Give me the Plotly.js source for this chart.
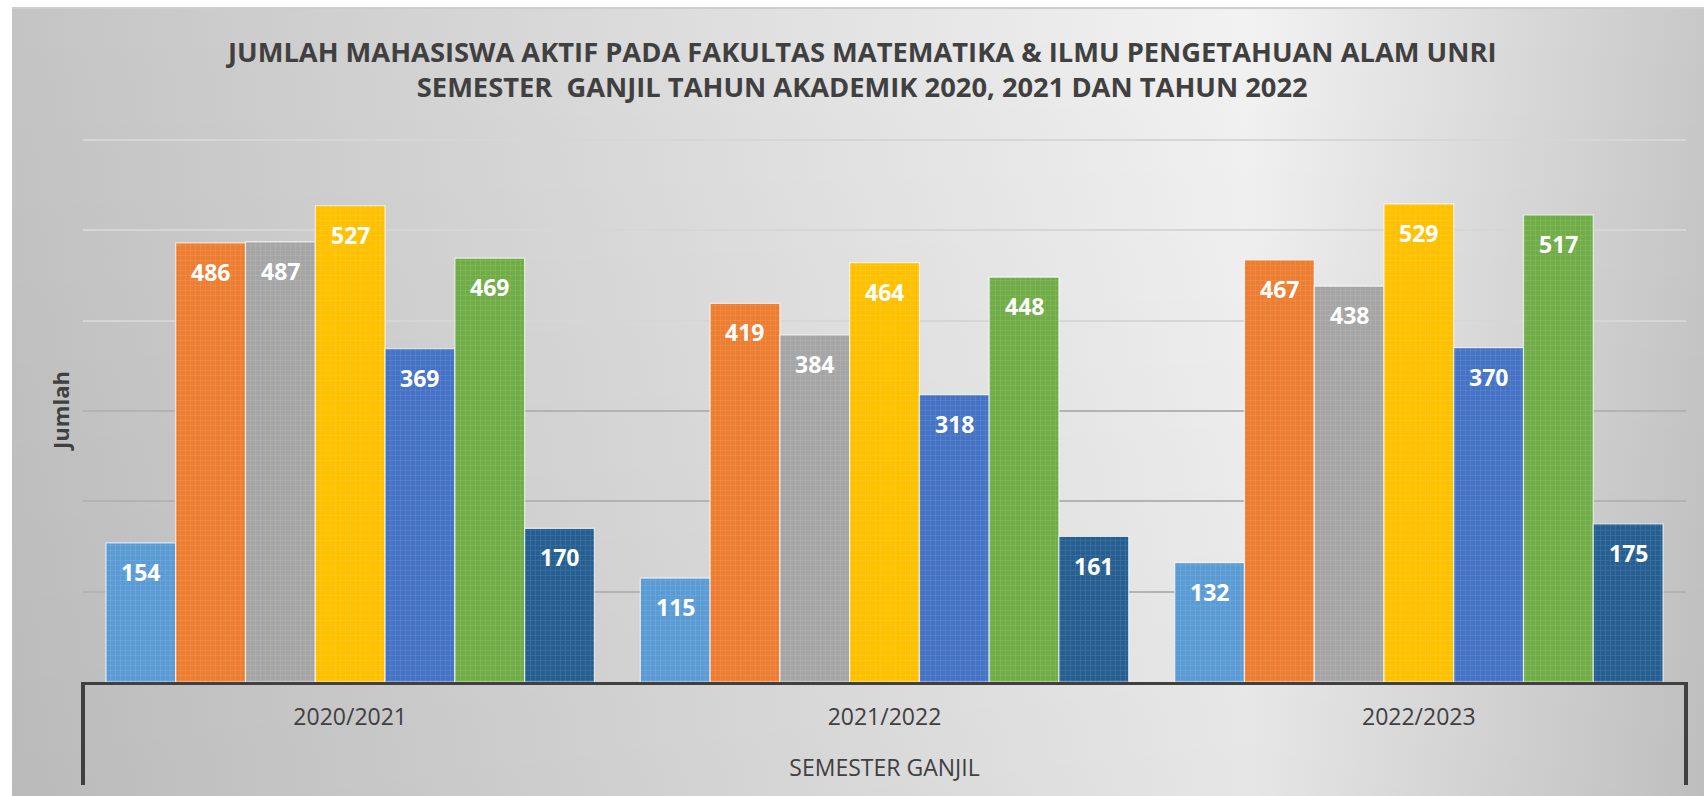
<!DOCTYPE html>
<html>
<head>
<meta charset="utf-8">
<script src="https://cdn.plot.ly/plotly-3.0.1.min.js"></script>
<style>
  html, body { margin: 0; padding: 0; background: #ffffff; }
  #wrap { position: relative; width: 1704px; height: 796px; overflow: hidden; }
  #bg {
    position: absolute; left: 12px; top: 7px; right: 0; bottom: 0;
    border-top: 2px solid #cdcdcd;
    background:
      linear-gradient(to bottom, rgba(0,0,0,0) 0%, rgba(0,0,0,0.05) 100%),
      linear-gradient(to right, #c4c4c4 0%, #f2f2f2 73%, #c8c8c8 100%);
  }
  #chart { position: absolute; left: 0; top: 0; width: 1704px; height: 796px; }
</style>
</head>
<body>
<div id="wrap">
  <div id="bg"></div>
  <div id="chart"></div>
</div>
<script>
// ---- data ----
const categories = ['2020/2021', '2021/2022', '2022/2023'];
const seriesNames = ['Seri 1', 'Seri 2', 'Seri 3', 'Seri 4', 'Seri 5', 'Seri 6', 'Seri 7'];
const series1 = [154, 115, 132];
const series2 = [486, 419, 467];
const series3 = [487, 384, 438];
const series4 = [527, 464, 529];
const series5 = [369, 318, 370];
const series6 = [469, 448, 517];
const series7 = [170, 161, 175];
const seriesColors = ['#5B9BD5', '#ED7D31', '#A5A5A5', '#FFC000', '#4472C4', '#70AD47', '#255E91'];
const titleLines = [
  'JUMLAH MAHASISWA AKTIF PADA FAKULTAS MATEMATIKA &amp; ILMU PENGETAHUAN ALAM UNRI',
  'SEMESTER\u00a0 GANJIL TAHUN AKADEMIK 2020, 2021 DAN TAHUN 2022'
];
const xTitle = 'SEMESTER GANJIL';
const yTitle = 'Jumlah';

const allSeries = [series1, series2, series3, series4, series5, series6, series7];
const BARGAP = 0.086;

const traces = allSeries.map((vals, i) => ({
  type: 'bar',
  name: seriesNames[i],
  x: categories,
  y: vals,
  marker: {
    color: seriesColors[i],
    line: { color: 'rgba(255,255,255,0.7)', width: 1.2 },
    pattern: { shape: '+', fillmode: 'overlay', bgcolor: seriesColors[i], fgcolor: '#ffffff',
               fgopacity: 0.2, size: 5, solidity: 0.15 }
  },
  hoverinfo: 'x+y',
  showlegend: false
}));

// value labels near the inside top of each bar (positions from the axis' category scale)
const nS = allSeries.length;
const groupW = 1 - BARGAP;
const annotations = [];
allSeries.forEach((vals, i) => {
  const off = -groupW / 2 + (i + 0.5) * groupW / nS;
  vals.forEach((v, j) => {
    annotations.push({
      xref: 'x', yref: 'y',
      x: j + off, y: v,
      yanchor: 'middle', xanchor: 'center',
      yshift: -29,
      text: String(v),
      showarrow: false,
      font: { family: 'Open Sans', size: 23, color: '#ffffff', weight: 700 }
    });
  });
});

const plotTop = 138, plotBottom = 682, H = 796;
const boxDepth = 103 / (plotBottom - plotTop);

const layout = {
  width: 1704, height: 796,
  paper_bgcolor: 'rgba(0,0,0,0)',
  plot_bgcolor: 'rgba(0,0,0,0)',
  margin: { l: 83, r: 18, t: plotTop, b: H - plotBottom, pad: 0 },
  font: { family: 'Open Sans', color: '#404040' },
  barmode: 'group',
  bargap: BARGAP,
  bargroupgap: 0,
  title: {
    text: titleLines.join('<br>'),
    font: { family: 'Open Sans', size: 27.3, color: '#404040', weight: 700 },
    xref: 'container', x: 0.506, xanchor: 'center',
    yref: 'container', y: 1 - 62 / H, yanchor: 'middle'
  },
  xaxis: {
    type: 'category',
    showgrid: false,
    zeroline: false,
    showline: true, linecolor: '#404040', linewidth: 3,
    ticks: '',
    ticklabelstandoff: 12,
    tickfont: { family: 'Open Sans', size: 23, color: '#404040' },
    title: { text: xTitle, font: { family: 'Open Sans', size: 23, color: '#404040' }, standoff: 30 },
    automargin: false,
    fixedrange: true
  },
  yaxis: {
    range: [0, 602],
    tickvals: [400, 500, 600],
    showticklabels: false,
    showgrid: true, gridcolor: '#d6d6d6', gridwidth: 2,
    zeroline: false,
    showline: false,
    ticks: '',
    title: { text: yTitle, font: { family: 'Open Sans', size: 22, color: '#404040', weight: 700 }, standoff: 6 },
    automargin: false,
    fixedrange: true
  },
  yaxis2: {
    overlaying: 'y',
    range: [0, 602],
    tickvals: [100, 200, 300],
    showticklabels: false,
    showgrid: true, gridcolor: '#b3b3b3', gridwidth: 2,
    zeroline: false, showline: false, ticks: '',
    fixedrange: true
  },
  shapes: [
    { type: 'line', xref: 'paper', yref: 'paper', x0: 0, x1: 0, y0: 0, y1: -boxDepth,
      line: { color: '#404040', width: 4 } },
    { type: 'line', xref: 'paper', yref: 'paper', x0: 1, x1: 1, y0: 0, y1: -boxDepth,
      line: { color: '#404040', width: 4 } }
  ],
  annotations: annotations
};

// invisible helper trace so the overlay axis grid is drawn
traces.push({ type: 'scatter', x: [categories[0]], y: [0], yaxis: 'y2', mode: 'markers',
  marker: { opacity: 0 }, hoverinfo: 'skip', showlegend: false });

Plotly.newPlot('chart', traces, layout, { displayModeBar: false, staticPlot: true });
</script>
</body>
</html>
